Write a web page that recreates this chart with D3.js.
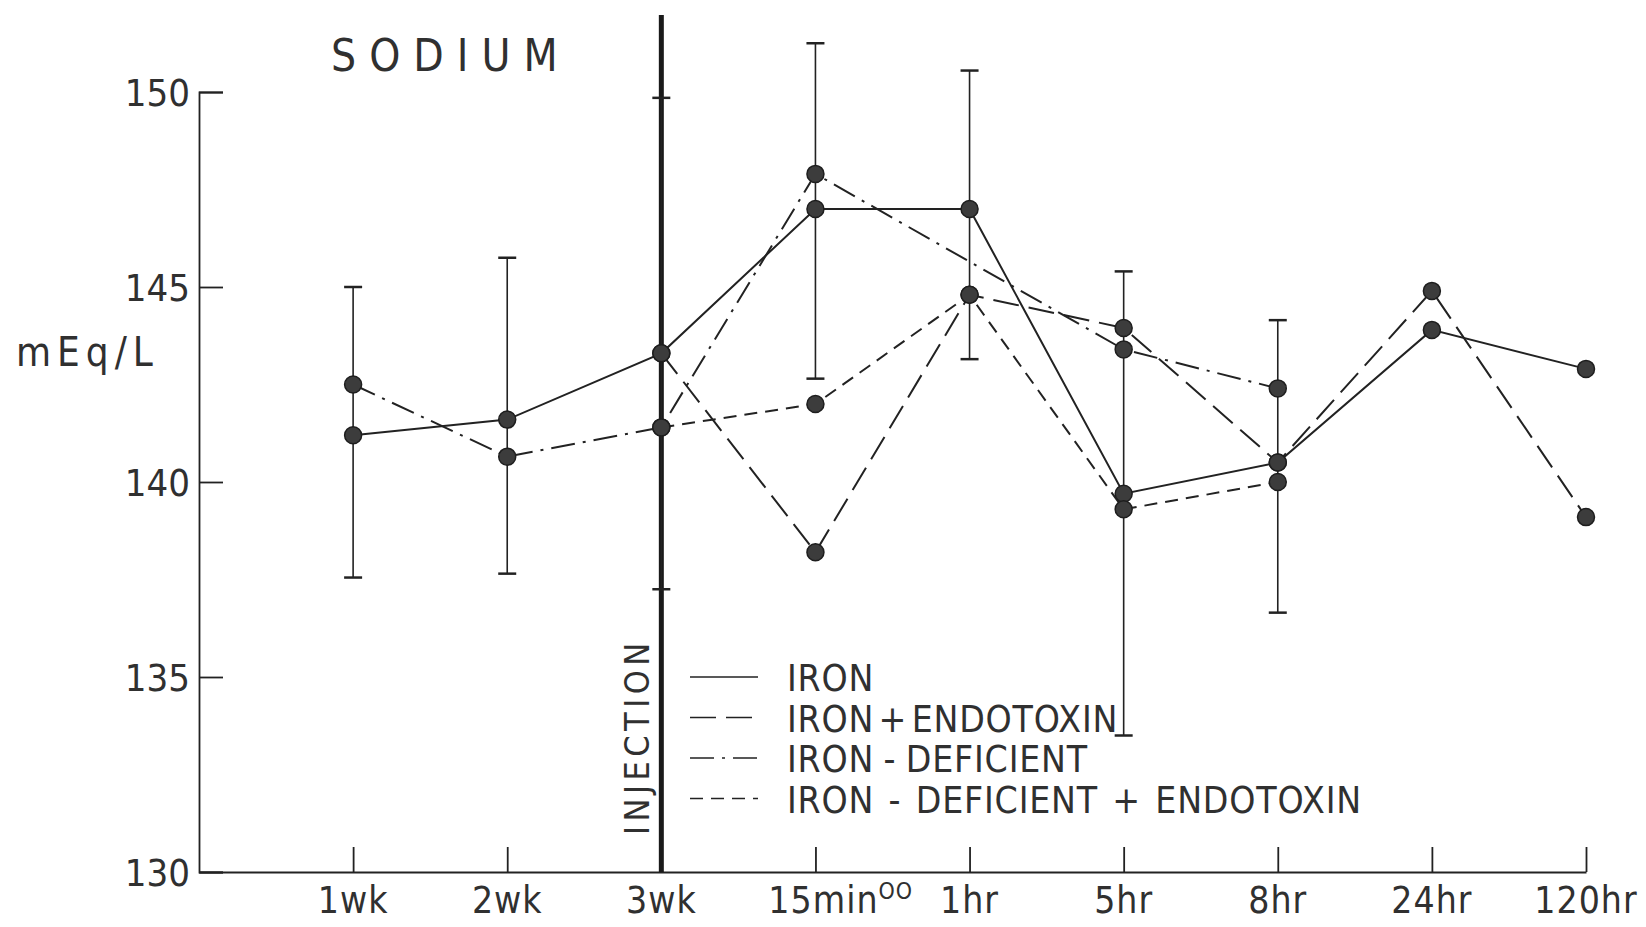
<!DOCTYPE html>
<html lang="en">
<head>
    <meta charset="UTF-8">
    <title>Sodium</title>
    <script src="https://d3js.org/d3.v7.min.js"></script>
    <style>
        body {
            margin: 0;
            background-color: #ffffff;
        }
        svg text {
            font-family: "DejaVu Sans Condensed", "DejaVu Sans", sans-serif;
            font-stretch: condensed;
            font-weight: 300;
            fill: #303030;
        }
    </style>
</head>
<body>
    <svg id="chart" width="1646" height="927"></svg>
    <script>
        // time points (the first three are before the injection)
        const categories = ["1wk", "2wk", "3wk", "15min", "1hr", "5hr", "8hr", "24hr", "120hr"];

        // mEq/L, null where the group has no point
        const iron        = [141.2, 141.6, 143.3, 147.0, 147.0, 139.7, 140.5, 143.9, 142.9];
        const ironEndo    = [null, null, 143.3, 138.2, 144.8, 143.95, 140.5, 144.9, 139.1];
        const ironDef     = [142.5, 140.65, 141.4, 147.9, null, 143.4, 142.4, null, null];
        const ironDefEndo = [null, null, 141.4, 142.0, 144.8, 139.3, 140.0, null, null];

        // error bars
        const errHi = [145.0, 145.75, 149.85, 151.25, 150.55, 145.4, 144.15, null, null];
        const errLo = [137.55, 137.65, 137.25, 142.65, 143.15, 133.5, 136.65, null, null];

        const yTicks = [130, 135, 140, 145, 150];

        const series = [
            { name: "IRON", values: iron, dash: null, gap: "0px" },
            { name: "IRON + ENDOTOXIN", values: ironEndo, dash: "26,10", gap: "-7px" },
            { name: "IRON - DEFICIENT", values: ironDef, dash: "24,8,3,8", gap: "-2px" },
            { name: "IRON - DEFICIENT + ENDOTOXIN", values: ironDefEndo, dash: "13,8", gap: "3px" }
        ];

        const ink = "#222";
        const svg = d3.select("#chart");

        const x = d3.scaleLinear().domain([0, categories.length]).range([199, 1586]);
        const y = d3.scaleLinear().domain([130, 150]).range([872, 92]);

        // axes
        const yAxis = d3.axisRight(y).tickValues(yTicks).tickSize(24).tickFormat("");
        svg.append("g").attr("transform", "translate(199,0)").call(yAxis)
            .call(g => g.selectAll("line, path").attr("stroke", ink).attr("stroke-width", 1.8));

        const xAxis = d3.axisTop(x)
            .tickValues(d3.range(1, categories.length + 1))
            .tickSize(25).tickSizeOuter(0).tickFormat("");
        svg.append("g").attr("transform", "translate(0,872)").call(xAxis)
            .call(g => g.selectAll("line, path").attr("stroke", ink).attr("stroke-width", 1.8));

        svg.selectAll("text.ylab")
            .data(yTicks)
            .enter().append("text")
            .attr("class", "ylab")
            .attr("x", 190)
            .attr("y", d => y(d) + 14)
            .attr("text-anchor", "end")
            .style("font-size", "38px")
            .text(d => d);

        const xl = svg.selectAll("text.xlab")
            .data(categories)
            .enter().append("text")
            .attr("class", "xlab")
            .attr("x", (d, i) => x(i + 1))
            .attr("y", 913)
            .attr("text-anchor", "middle")
            .style("font-size", "37px")
            .style("letter-spacing", "1px")
            .text(d => d);

        // the little "OO" after 15min
        xl.filter(d => d === "15min").each(function () {
            const sup = d3.select(this).append("tspan")
                .attr("dy", -14)
                .style("font-size", "23px")
                .text("OO");
            const w = sup.node().getComputedTextLength();
            d3.select(this).attr("dx", w / 2 + 8);
        });

        svg.append("text")
            .attr("x", 16)
            .attr("y", 366)
            .style("font-size", "40px")
            .style("letter-spacing", "6px")
            .text("mEq/L");

        svg.append("text")
            .attr("x", 331)
            .attr("y", 71)
            .style("font-size", "44px")
            .style("letter-spacing", "13px")
            .text("SODIUM");

        // injection marker between 3wk and 15min
        svg.append("line")
            .attr("x1", x(3)).attr("x2", x(3))
            .attr("y1", 15).attr("y2", 872)
            .attr("stroke", "#1a1a1a")
            .attr("stroke-width", 5);

        svg.append("text")
            .attr("transform", `translate(${x(3) - 12},835) rotate(-90)`)
            .style("font-size", "34px")
            .style("letter-spacing", "4.5px")
            .text("INJECTION");

        // error bars
        const bars = categories.map((c, i) => ({ i, hi: errHi[i], lo: errLo[i] }))
            .filter(d => d.hi != null);

        const eb = svg.append("g").attr("stroke", ink).attr("stroke-width", 1.6);
        eb.selectAll("line.v").data(bars).enter().append("line")
            .attr("x1", d => x(d.i + 1)).attr("x2", d => x(d.i + 1))
            .attr("y1", d => y(d.hi)).attr("y2", d => y(d.lo));
        eb.selectAll("line.hi").data(bars).enter().append("line")
            .attr("x1", d => x(d.i + 1) - 9).attr("x2", d => x(d.i + 1) + 9)
            .attr("y1", d => y(d.hi)).attr("y2", d => y(d.hi))
            .attr("stroke-width", 2.5);
        eb.selectAll("line.lo").data(bars).enter().append("line")
            .attr("x1", d => x(d.i + 1) - 9).attr("x2", d => x(d.i + 1) + 9)
            .attr("y1", d => y(d.lo)).attr("y2", d => y(d.lo))
            .attr("stroke-width", 2.5);

        // lines
        const line = d3.line()
            .x(d => x(d.i + 1))
            .y(d => y(d.v));

        series.forEach(s => {
            const pts = s.values.map((v, i) => ({ i, v })).filter(d => d.v != null);
            svg.append("path")
                .datum(pts)
                .attr("d", line)
                .attr("fill", "none")
                .attr("stroke", ink)
                .attr("stroke-width", 2)
                .attr("stroke-dasharray", s.dash);
        });

        // dots
        series.forEach(s => {
            const pts = s.values.map((v, i) => ({ i, v })).filter(d => d.v != null);
            svg.selectAll(null)
                .data(pts)
                .enter().append("circle")
                .attr("cx", d => x(d.i + 1))
                .attr("cy", d => y(d.v))
                .attr("r", 8.5)
                .attr("fill", "#3c3c3c")
                .attr("stroke", "#1e1e1e")
                .attr("stroke-width", 1.5);
        });

        // legend
        const legend = svg.append("g");
        series.forEach((s, k) => {
            const cy = 677 + k * 40.5;
            legend.append("line")
                .attr("x1", 690).attr("x2", 758)
                .attr("y1", cy).attr("y2", cy)
                .attr("stroke", ink)
                .attr("stroke-width", 1.6)
                .attr("stroke-dasharray", s.dash);
            legend.append("text")
                .attr("x", 787)
                .attr("y", cy + 14)
                .style("font-size", "37px")
                .style("letter-spacing", "0.8px")
                .style("word-spacing", s.gap)
                .text(s.name);
        });
    </script>
</body>
</html>
